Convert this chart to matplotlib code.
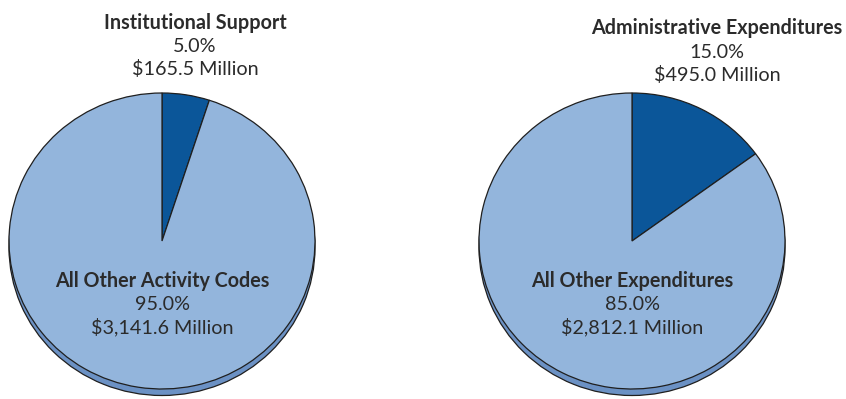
import matplotlib.pyplot as plt

# spending split, $ millions
left_labels = ["Institutional Support", "All Other Activity Codes"]
left_values = [165.5, 3141.6]
right_labels = ["Administrative Expenditures", "All Other Expenditures"]
right_values = [495.0, 2812.1]

DARK = "#0b5699"
LIGHT = "#93b5dc"
RIM = "#6b91c4"
EDGE = "#1f1f1f"
TEXT = "#2b2b2b"

plt.rcParams["font.family"] = ["Lato", "DejaVu Sans"]

W, H = 846, 399
fig = plt.figure(figsize=(W / 100, H / 100), dpi=100)


def draw_pie(cx, cy, values, rx=153, ry=148):
    # axes sized so that radius 1 spans rx by ry pixels
    span = 1.2
    ax = fig.add_axes([(cx - span * rx) / W, (H - cy - span * ry) / H,
                       2 * span * rx / W, 2 * span * ry / H])
    # thin lower rim that gives the disc some depth
    ax.pie([1], colors=[RIM], center=(0, -6.5 / ry), radius=1,
           wedgeprops=dict(edgecolor=EDGE, linewidth=0.9))
    ax.pie(values, colors=[DARK, LIGHT], startangle=90, counterclock=False,
           radius=1, wedgeprops=dict(edgecolor=EDGE, linewidth=0.9))
    ax.set_xlim(-span, span)
    ax.set_ylim(-span, span)
    ax.set_aspect("auto")
    ax.axis("off")


def label(x, name, value, total, rows):
    pct = 100 * value / total
    lines = [(name, "bold"), (f"{pct:.1f}%", "normal"),
             (f"${value:,.1f} Million", "normal")]
    for (txt, weight), y in zip(lines, rows):
        fig.text(x / W, 1 - y / H, txt, ha="center", va="center",
                 fontsize=14.2, fontweight=weight, color=TEXT)


draw_pie(162, 241, left_values)
draw_pie(632, 241, right_values)

lt = sum(left_values)
rt = sum(right_values)
label(195, left_labels[0], left_values[0], lt, [23, 47, 69])
label(162, left_labels[1], left_values[1], lt, [281, 304, 327])
label(717, right_labels[0], right_values[0], rt, [28, 52, 75])
label(632, right_labels[1], right_values[1], rt, [281, 304, 327])

fig.savefig("out.png", dpi=100)
